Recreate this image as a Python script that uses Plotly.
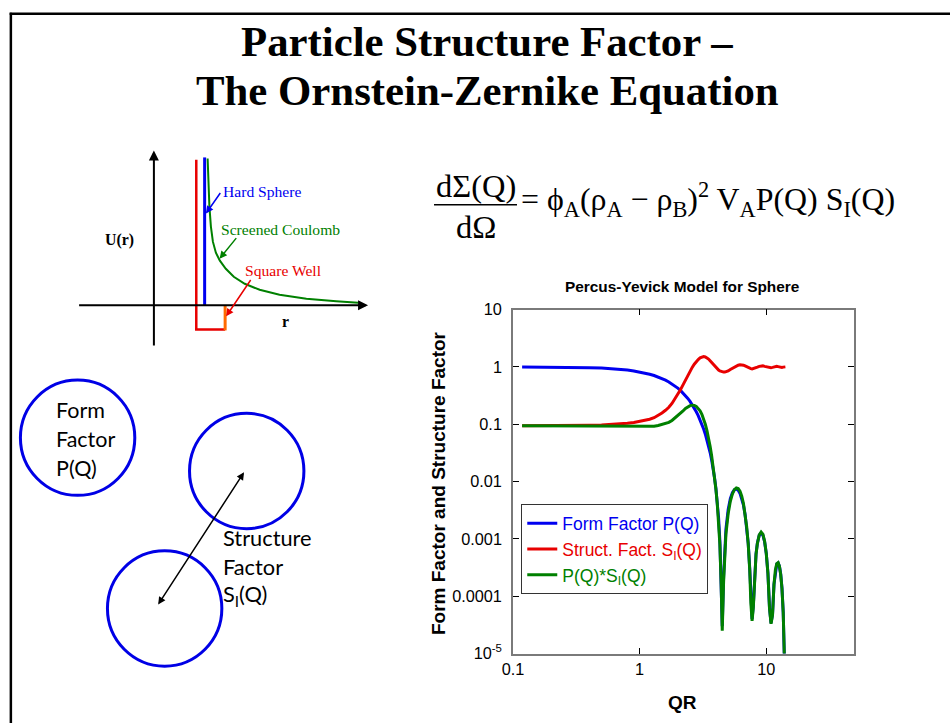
import plotly.graph_objects as go

# Slide coordinate space (pixels of the original slide)
W, H = 952, 723
# Size of the figure div on the page (the photographed area is slightly larger than
# the nominal window, so the div is sized to fill it and then shifted over the 8px
# default body margin).
DIV_W, DIV_H = 958, 743

# ---------------- Percus-Yevick chart data ----------------
QR = [0.118, 0.15, 0.2, 0.3, 0.4, 0.5, 0.6, 0.7, 0.8, 0.9,
      1.0, 1.1, 1.2, 1.3, 1.4, 1.5, 1.6, 1.7, 1.8, 1.9,
      2.0, 2.1, 2.2, 2.3, 2.4, 2.5, 2.6, 2.7, 2.8, 2.9,
      3.0, 3.1, 3.2, 3.3, 3.4, 3.5, 3.6, 3.7, 3.8, 3.9,
      4.0, 4.1, 4.2, 4.3, 4.4, 4.49, 4.6, 4.7, 4.8,
      5.0, 5.2, 5.4, 5.6, 5.8,
      6.0, 6.2, 6.4, 6.6, 6.8,
      7.0, 7.2, 7.4, 7.55, 7.72, 7.9,
      8.1, 8.3, 8.5, 8.8,
      9.1, 9.4, 9.7,
      10.0, 10.3, 10.6, 10.9,
      11.2, 11.5, 11.8,
      12.1, 12.4, 12.7,
      13.0, 13.3, 13.6, 13.85,
      14.15]

P_form = [0.9972, 0.9955, 0.992, 0.9821, 0.9684, 0.9511, 0.9302, 0.906, 0.8788, 0.8489,
          0.8163, 0.7817, 0.7451, 0.7071, 0.6679, 0.6279, 0.5873, 0.5465, 0.506, 0.4659,
          0.4266, 0.388, 0.3511, 0.3155, 0.2816, 0.2495, 0.2193, 0.1912, 0.1651, 0.1412,
          0.1195, 0.0999, 0.0824, 0.067, 0.05354, 0.04194, 0.03209, 0.02386, 0.01713, 0.01175,
          0.007584, 0.004485, 0.002313, 0.000928, 0.000199, 3.0e-5, 0.000217, 0.00074, 0.001476,
          0.003255, 0.005017, 0.0064, 0.007221, 0.007416,
          0.00704, 0.006212, 0.005099, 0.003868, 0.002672,
          0.00163, 0.000831, 0.000302, 8.24e-5, 4.0e-5, 6.87e-5,
          0.000276, 0.000555, 0.000835, 0.001156,
          0.001267, 0.001158, 0.000888,
          0.000554, 0.000256, 6.3e-5, 3.4e-5,
          4.8e-5, 0.000161, 0.000282,
          0.000363, 0.00038, 0.000333,
          0.000241, 0.000138, 5.29e-5, 1.11e-5,
          1.6e-6]

S_struct = [0.094, 0.094, 0.094, 0.095, 0.096, 0.097, 0.099, 0.101, 0.104, 0.107,
            0.111, 0.116, 0.122, 0.13, 0.142, 0.157, 0.175, 0.197, 0.23, 0.275,
            0.33, 0.4, 0.485, 0.595, 0.715, 0.845, 0.98, 1.115, 1.24, 1.345,
            1.435, 1.49, 1.51, 1.49, 1.44, 1.37, 1.28, 1.19, 1.1, 1.03,
            0.97, 0.92, 0.88, 0.85, 0.83, 0.82, 0.81, 0.81, 0.82,
            0.85, 0.9, 0.95, 1.0, 1.04,
            1.07, 1.09, 1.09, 1.07, 1.04,
            1.0, 0.97, 0.94, 0.93, 0.92, 0.93,
            0.95, 0.97, 0.99, 1.02,
            1.04, 1.04, 1.02,
            1.0, 0.98, 0.97, 0.97,
            0.98, 1.0, 1.02,
            1.02, 1.01, 0.99,
            0.98, 0.98, 0.99, 1.0,
            1.0]

PS_prod = [0.0937, 0.0936, 0.0932, 0.0933, 0.093, 0.0923, 0.0921, 0.0915, 0.0914, 0.0908,
           0.0906, 0.0907, 0.0909, 0.0919, 0.0948, 0.0986, 0.1028, 0.1077, 0.1164, 0.1281,
           0.1408, 0.1552, 0.1703, 0.1877, 0.2013, 0.2108, 0.2149, 0.2132, 0.2047, 0.1899,
           0.1715, 0.1489, 0.1244, 0.0998, 0.0771, 0.0575, 0.0411, 0.0284, 0.01884, 0.0121,
           0.007356, 0.004126, 0.002035, 0.000789, 0.000165, 2.5e-5, 0.000176, 0.000599, 0.00121,
           0.002767, 0.004515, 0.00608, 0.007221, 0.007713,
           0.007533, 0.006771, 0.005558, 0.004139, 0.002779,
           0.00163, 0.000806, 0.000284, 7.66e-5, 3.7e-5, 6.39e-5,
           0.000262, 0.000538, 0.000827, 0.001179,
           0.001318, 0.001204, 0.000906,
           0.000554, 0.000251, 6.11e-5, 3.3e-5,
           4.7e-5, 0.000161, 0.000288,
           0.00037, 0.000384, 0.00033,
           0.000236, 0.000135, 5.24e-5, 1.11e-5,
           1.6e-6]

x_tickvals = [0.1, 1, 10]
x_ticktext = ["0.1", "1", "10"]
y_tickvals = [1e-5, 1e-4, 1e-3, 1e-2, 0.1, 1, 10]
y_ticktext = ["10<sup>-5</sup>", "0.0001", "0.001", "0.01", "0.1", "1", "10"]

series_names = ["Form Factor P(Q)", "Struct. Fact. S<sub>I</sub>(Q)", "P(Q)*S<sub>I</sub>(Q)"]

# ---------------- schematic (potential sketch) geometry, in slide pixels ----------------
coulomb_r = [205.7, 206.5, 207.5, 209, 211, 214, 218, 224, 232, 243, 258, 278, 305, 335, 357]
coulomb_u = [157, 180, 205, 225, 240, 251, 259, 267, 275, 282, 288, 293, 297, 299.5, 301]
well_r = [194.3, 194.3, 223.3]
well_u = [158.3, 327.7, 327.7]
well_edge_r = [223.3, 223.3]
well_edge_u = [328.5, 303.3]
hard_r = [202.7, 202.7]
hard_u = [156, 303.3]

BLUE = "#0000f0"
RED = "#e80000"
GREEN = "#008000"
ORANGE = "#ff6a00"
CIRCLE = "#0000e6"

SERIF = "Liberation Serif, Times New Roman, serif"
SANS = "Liberation Sans, Arial, sans-serif"
CAL = "Lato, Carlito, Calibri, sans-serif"

fig = go.Figure()

# ---- main chart ----
fig.add_trace(go.Scatter(x=QR, y=P_form, mode="lines", line=dict(color=BLUE, width=3),
                         name=f'<span style="color:{BLUE}">{series_names[0]}</span>'))
fig.add_trace(go.Scatter(x=QR, y=S_struct, mode="lines", line=dict(color=RED, width=3),
                         name=f'<span style="color:{RED}">{series_names[1]}</span>'))
fig.add_trace(go.Scatter(x=QR, y=PS_prod, mode="lines", line=dict(color=GREEN, width=3),
                         name=f'<span style="color:{GREEN}">{series_names[2]}</span>'))

# ---- schematic on a hidden slide-pixel overlay ----
def sk(xs, ys, color, width):
    fig.add_trace(go.Scatter(x=xs, y=ys, mode="lines", xaxis="x2", yaxis="y2",
                             line=dict(color=color, width=width), showlegend=False,
                             hoverinfo="skip"))

sk(well_r, well_u, RED, 2.5)
sk(hard_r, hard_u, BLUE, 3)
sk(coulomb_r, coulomb_u, GREEN, 2)
sk(well_edge_r, well_edge_u, ORANGE, 3)

annotations = []
shapes = []

def txt(x, y, s, size, family, color="black", xanchor="center", bold=False, angle=0):
    if bold:
        s = f"<b>{s}</b>"
    annotations.append(dict(x=x, y=y, xref="x2", yref="y2", text=s, showarrow=False,
                            xanchor=xanchor, yanchor="middle", textangle=angle,
                            font=dict(size=size, family=family, color=color)))

def arrow(x, y, ax, ay, color, width=1.5, both=False, head=2, size=1.0):
    annotations.append(dict(x=x, y=y, ax=ax, ay=ay, xref="x2", yref="y2",
                            axref="x2", ayref="y2", text="", showarrow=True,
                            arrowhead=head, arrowsize=size, arrowwidth=width,
                            arrowcolor=color,
                            arrowside="end+start" if both else "end"))

# slide title
txt(487, 40, "Particle Structure Factor \u2013", 42.8, SERIF, bold=True)
txt(487, 89, "The Ornstein-Zernike Equation", 42.8, SERIF, bold=True)

# potential sketch axes & labels
arrow(151.7, 149, 151.7, 345, "black", width=2)
arrow(367, 303.3, 75, 303.3, "black", width=2)
txt(117, 238, "U(r)", 15.8, SERIF, bold=True)
txt(284, 319.5, "r", 15.8, SERIF, bold=True)
txt(219.5, 189.5, "Hard Sphere", 15.6, SERIF, color=BLUE, xanchor="left")
txt(217, 228, "Screened Coulomb", 15.6, SERIF, color=GREEN, xanchor="left")
txt(241.5, 269, "Square Well", 15.6, SERIF, color=RED, xanchor="left")
arrow(204, 212, 219.5, 190, BLUE, width=1.5)
arrow(217.7, 257, 235.7, 235, GREEN, width=1.5)
arrow(224.3, 314.5, 250, 276.7, RED, width=1.5)

# circles
for cx, cy in [(75, 435.5), (245, 468.7), (162.5, 605.8)]:
    shapes.append(dict(type="circle", xref="x2", yref="y2", x0=cx - 57.5, x1=cx + 57.5,
                       y0=cy - 57.5, y1=cy + 57.5, line=dict(color=CIRCLE, width=3)))
arrow(242.3, 470, 155, 603.3, "black", width=1.5, both=True)
for i, s in enumerate(["Form", "Factor", "P(Q)"]):
    txt(51.5, 407.5 + 29.2 * i, s, 21.5, CAL, xanchor="left")
for i, s in enumerate(["Structure", "Factor", "S<sub>I</sub>(Q)"]):
    txt(219.5, 534.7 + 28.8 * i, s, 21.8, CAL, xanchor="left")

# equation
txt(475, 184, "d\u03a3(Q)", 32.5, SERIF)
txt(475, 225.5, "d\u03a9", 32.5, SERIF)
shapes.append(dict(type="line", xref="x2", yref="y2", x0=433.3, x1=516.7, y0=203.3, y1=203.3,
                   line=dict(color="black", width=1.5)))
txt(519, 198, "= \u03d5<sub>A</sub>(\u03c1<sub>A</sub> \u2212 \u03c1<sub>B</sub>)<sup>2</sup> "
              "V<sub>A</sub>P(Q) S<sub>I</sub>(Q)", 31.9, SERIF, xanchor="left")

# chart texts
txt(683.5, 284.5, "Percus-Yevick Model for Sphere", 15.4, SANS, bold=True)
txt(438, 481, "Form Factor and Structure Factor", 19, SANS, bold=True, angle=-90)
txt(683.5, 699.5, "QR", 19, SANS, bold=True)

# slide border (top and left), in slide pixels
shapes.append(dict(type="line", xref="x2", yref="y2", x0=6.7, x1=W + 10,
                   y0=12.8, y1=12.8, line=dict(color="black", width=2.5)))
shapes.append(dict(type="line", xref="x2", yref="y2", x0=7.9, x1=7.9,
                   y0=11.6, y1=H + 10, line=dict(color="black", width=2.5)))

x0p, x1p = 512.7, 855.3
ytop, ybot = 307.7, 650.7
axis_common = dict(type="log", showline=True, linecolor="#7a7a7a", linewidth=1.6,
                   mirror="ticks", ticks="inside", ticklen=6, tickwidth=1, tickcolor="black",
                   showgrid=False, zeroline=False,
                   tickfont=dict(family=SANS, size=16.3, color="black"))

fig.update_layout(
    autosize=True,
    margin=dict(l=0, r=0, t=0, b=0),
    paper_bgcolor="white", plot_bgcolor="rgba(0,0,0,0)",
    xaxis=dict(domain=[x0p / W, x1p / W], range=[-1, 1.691], anchor="y",
               tickvals=x_tickvals, ticktext=x_ticktext, **axis_common),
    yaxis=dict(domain=[1 - ybot / H, 1 - ytop / H], range=[-5, 1], anchor="x",
               tickvals=y_tickvals, ticktext=y_ticktext, ticklabelstandoff=6, **axis_common),
    xaxis2=dict(domain=[0, 1], range=[0, W], visible=False, anchor="y2", fixedrange=True),
    yaxis2=dict(domain=[0, 1], range=[H, 0], visible=False, anchor="x2", fixedrange=True),
    showlegend=True,
    legend=dict(x=521 / W, y=1 - 502 / H, xanchor="left", yanchor="top",
                bgcolor="white", bordercolor="#333333", borderwidth=1,
                font=dict(family=SANS, size=17.5, color="black"),
                tracegroupgap=0),
    annotations=annotations,
    shapes=shapes,
)

fig.write_html("out.html",
               default_width=f"{DIV_W}px;margin:-8px 0 -8px -8px",
               default_height=f"{DIV_H}px")
